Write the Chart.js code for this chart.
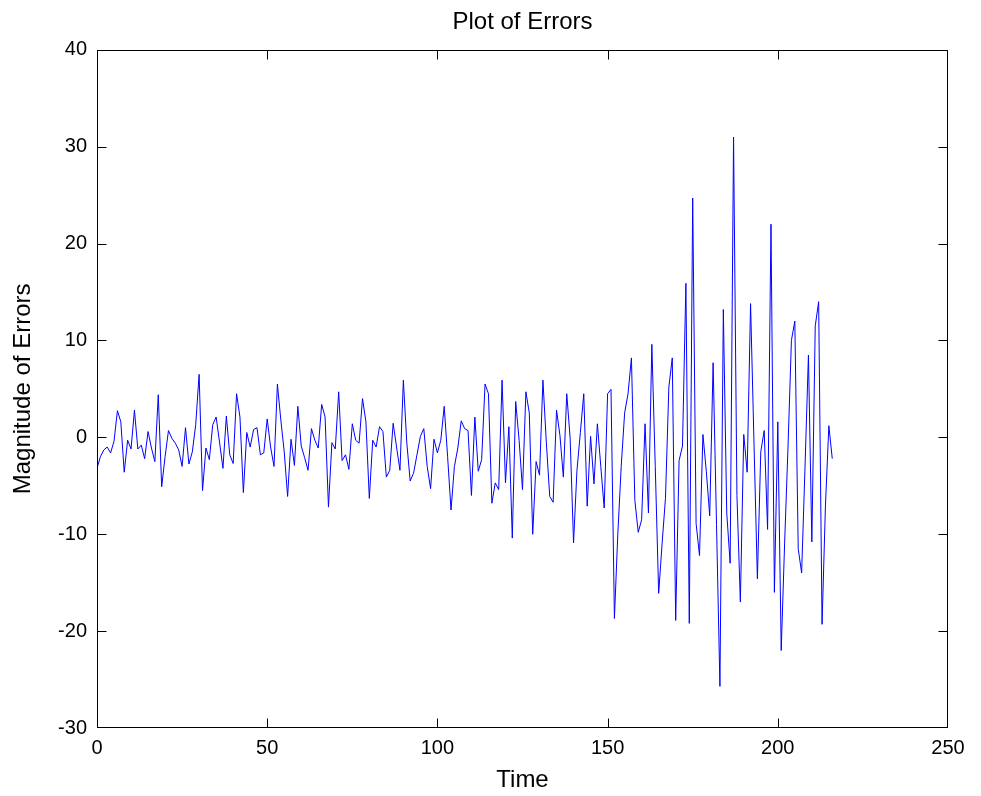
<!DOCTYPE html>
<html>
<head>
<meta charset="utf-8">
<script src="https://cdn.jsdelivr.net/npm/chart.js@4"></script>
<style>
  body { margin: 0; background: #fff; }
  #wrap { width: 981px; height: 796px; }
</style>
</head>
<body>
<div id="wrap"><canvas id="chart" width="981" height="796"></canvas></div>
<script>
// error values, one per time step starting at 0
const errors = [
  -3.2, -2.0, -1.3, -1.0, -1.6, -0.4, 2.75, 1.6, -3.6, -0.3,
  -1.2, 2.8, -1.2, -0.8, -2.2, 0.6, -1.1, -2.5, 4.4, -5.1,
  -2.0, 0.7, -0.1, -0.6, -1.3, -3.0, 1.0, -2.75, -1.5, 1.3,
  6.5, -5.5, -1.1, -2.3, 1.3, 2.1, -0.5, -3.2, 2.2, -1.8,
  -2.7, 4.5, 2.1, -5.7, 0.5, -1.0, 0.8, 1.0, -1.8, -1.6,
  1.9, -1.0, -3.0, 5.5, 1.8, -1.5, -6.1, -0.2, -2.9, 3.2,
  -0.9, -2.1, -3.4, 0.9, -0.3, -1.1, 3.4, 2.1, -7.2, -0.55,
  -1.2, 4.7, -2.4, -1.8, -3.3, 1.4, -0.3, -0.6, 4.0, 1.6,
  -6.3, -0.3, -1.0, 1.1, 0.6, -4.1, -3.4, 1.45, -1.0, -3.4,
  5.9, -0.5, -4.5, -3.7, -1.8, 0.1, 0.9, -3.0, -5.3, -0.2,
  -1.6, -0.3, 3.2, -2.0, -7.5, -3.0, -1.1, 1.7, 0.9, 0.7,
  -6.0, 2.1, -3.5, -2.3, 5.5, 4.5, -6.8, -4.7, -5.4, 5.9,
  -4.7, 1.1, -10.4, 3.7, -0.3, -5.4, 4.7, 2.5, -10.0, -2.5,
  -3.9, 5.9, -0.5, -6.1, -6.7, 2.8, 0.2, -4.1, 4.5, -0.1,
  -10.9, -3.4, 0.5, 4.5, -7.1, 0.1, -4.8, 1.4, -3.0, -7.3,
  4.5, 4.95, -18.7, -10.0, -3.0, 2.5, 4.5, 8.2, -6.5, -9.8,
  -8.5, 1.4, -7.8, 9.6, -3.0, -16.1, -11.0, -6.3, 5.2, 8.2,
  -18.9, -2.4, -0.9, 15.9, -19.2, 24.7, -8.9, -12.2, 0.3, -3.5,
  -8.1, 7.7, -9.0, -25.7, 13.2, -7.8, -13.0, 31.0, -6.0, -17.0,
  0.3, -3.6, 13.8, -0.5, -14.6, -1.5, 0.7, -9.5, 22.0, -16.0,
  1.6, -22.0, -11.0, -1.0, 10.0, 12.0, -11.5, -14.0, -3.0, 8.5,
  -10.8, 11.5, 14.0, -19.3, -7.0, 1.2, -2.2
];
const time = errors.map((_, i) => i);

const xTicks = [0, 50, 100, 150, 200, 250];
const yTicks = [-30, -20, -10, 0, 10, 20, 30, 40];

const FONT = 'Liberation Sans, Arial, Helvetica, sans-serif';

// matlab style box with ticks pointing inward
const boxTicks = {
  id: 'boxTicks',
  afterDraw(chart) {
    const { ctx, chartArea: a, scales } = chart;
    const len = 9;
    const L = Math.round(a.left) + 0.5, R = Math.round(a.right) - 0.5;
    const T = Math.round(a.top) + 0.5, B = Math.round(a.bottom) - 0.5;
    const clamp = (v, lo, hi) => Math.min(hi, Math.max(lo, v));
    ctx.save();
    ctx.strokeStyle = '#000';
    ctx.lineWidth = 1;
    ctx.beginPath();
    xTicks.forEach(v => {
      const px = clamp(Math.round(scales.x.getPixelForValue(v)) + 0.5, L, R);
      ctx.moveTo(px, B); ctx.lineTo(px, B - len);
      ctx.moveTo(px, T); ctx.lineTo(px, T + len);
    });
    yTicks.forEach(v => {
      const py = clamp(Math.round(scales.y.getPixelForValue(v)) + 0.5, T, B);
      ctx.moveTo(L, py); ctx.lineTo(L + len, py);
      ctx.moveTo(R, py); ctx.lineTo(R - len, py);
    });
    ctx.stroke();
    ctx.strokeRect(L, T, R - L, B - T);
    ctx.restore();
  }
};

new Chart(document.getElementById('chart'), {
  type: 'line',
  data: {
    labels: time,
    datasets: [{
      data: errors.map((e, i) => ({ x: time[i], y: e })),
      borderColor: '#0000ff',
      borderWidth: 1,
      pointRadius: 0,
      tension: 0,
      fill: false
    }]
  },
  options: {
    responsive: false,
    animation: false,
    layout: { padding: { left: 0, right: 33, top: 0, bottom: 0 } },
    plugins: {
      legend: { display: false },
      tooltip: { enabled: false },
      title: {
        display: true,
        text: 'Plot of Errors',
        fullSize: false,
        color: '#000',
        font: { family: FONT, size: 24, weight: 'normal' },
        padding: { top: 8, bottom: 13 }
      }
    },
    scales: {
      x: {
        type: 'linear',
        min: 0,
        max: 250,
        afterFit(s) { s.height = 68; },
        afterBuildTicks(s) { s.ticks = xTicks.map(v => ({ value: v })); },
        grid: { display: false, drawTicks: false },
        border: { display: false },
        ticks: { color: '#000', padding: 8, maxRotation: 0, font: { family: FONT, size: 20 } },
        title: {
          display: true,
          text: 'Time',
          color: '#000',
          font: { family: FONT, size: 24 },
          padding: { top: 0, bottom: 1 }
        }
      },
      y: {
        min: -30,
        max: 40,
        afterFit(s) { s.width = 97; },
        afterBuildTicks(s) { s.ticks = yTicks.map(v => ({ value: v })); },
        grid: { display: false, drawTicks: false },
        border: { display: false },
        ticks: { color: '#000', padding: 10, font: { family: FONT, size: 20 } },
        title: {
          display: true,
          text: 'Magnitude of Errors',
          color: '#000',
          font: { family: FONT, size: 24 },
          padding: { top: 9, bottom: 0 }
        }
      }
    }
  },
  plugins: [boxTicks]
});
</script>
</body>
</html>
